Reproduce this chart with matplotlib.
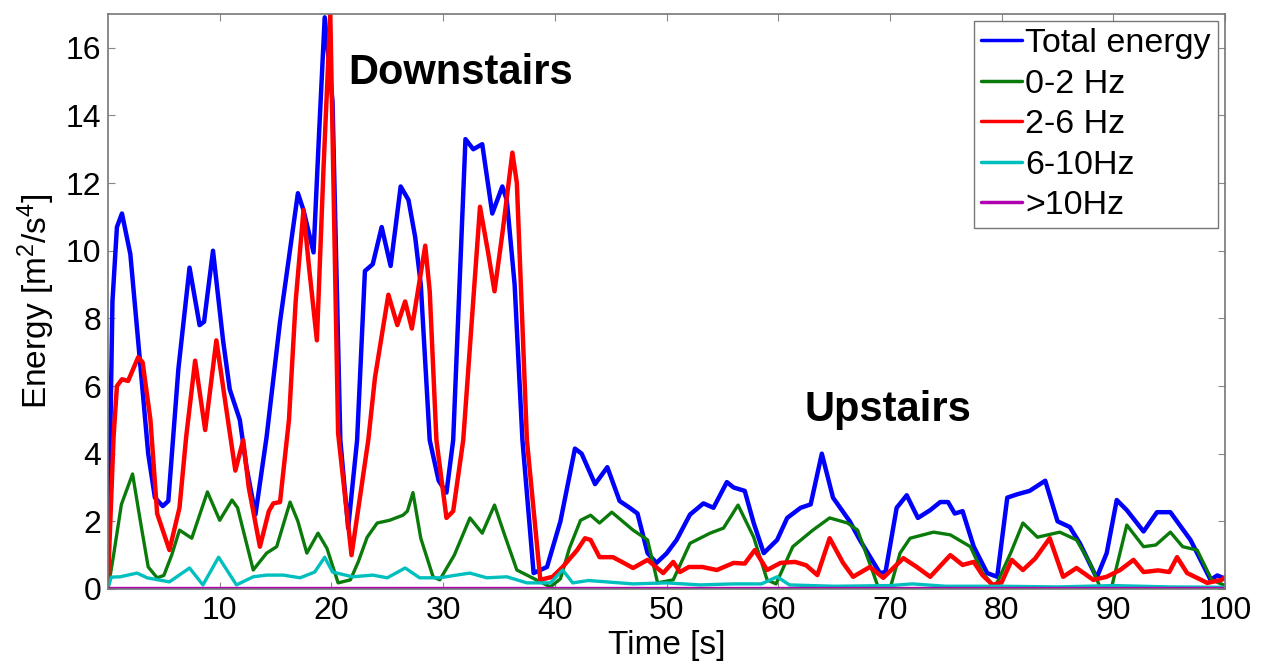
import numpy as np
import matplotlib
matplotlib.use("Agg")
import matplotlib.pyplot as plt

# Energi per pita frekuensi
t_total = [0, 0.4, 0.8, 1.25, 2.0, 2.9, 3.6, 4.2, 4.9, 5.4,
           6.3, 7.3, 8.2, 8.6, 9.4, 10.3, 10.9, 11.8, 12.4, 13.2,
           14.2, 15.4, 17.0, 17.5, 18.4, 18.9, 19.4, 20.1, 20.8, 21.5,
           22.3, 23.0, 23.7, 24.5, 25.3, 26.2, 26.9, 27.5, 28.0, 28.8,
           29.6, 30.3, 30.9, 32.0, 32.7, 33.5, 34.4, 35.3, 35.7, 36.4,
           37.1, 38.1, 39.3, 40.5, 41.8, 42.4, 43.6, 44.7, 45.8, 46.7,
           47.4, 48.3, 49.1, 50.0, 50.9, 52.1, 53.3, 54.2, 55.4, 56.0,
           57.0, 57.8, 58.7, 59.9, 60.8, 62.0, 62.9, 63.9, 64.9, 66.4,
           67.3, 69.1, 69.6, 70.6, 71.5, 72.5, 73.6, 74.5, 75.2, 75.8,
           76.5, 77.5, 78.7, 79.6, 80.5, 81.4, 82.5, 83.9, 85.0, 86.1,
           87.0, 88.5, 89.4, 90.3, 91.2, 92.7, 93.9, 95.1, 95.8, 96.9,
           98.7, 99.3, 100]
total = [0.3, 8.5, 10.7, 11.1, 9.9, 6.6, 4.0, 2.7, 2.45, 2.6,
         6.5, 9.5, 7.8, 7.9, 10.0, 7.35, 5.9, 5.0, 3.6, 2.2,
         4.5, 7.9, 11.7, 11.2, 9.95, 13.5, 16.9, 14.4, 4.4, 1.8,
         4.4, 9.4, 9.6, 10.7, 9.55, 11.9, 11.5, 10.4, 9.0, 4.4,
         3.2, 2.85, 4.4, 13.3, 13.0, 13.15, 11.1, 11.9, 11.5, 9.0,
         4.4, 0.47, 0.65, 2.0, 4.15, 4.0, 3.1, 3.6, 2.6, 2.4,
         2.23, 1.06, 0.77, 1.05, 1.45, 2.2, 2.53, 2.4, 3.16, 3.0,
         2.9, 1.95, 1.06, 1.45, 2.1, 2.4, 2.5, 4.0, 2.7, 2.0,
         1.45, 0.47, 0.5, 2.4, 2.77, 2.1, 2.33, 2.57, 2.57, 2.23,
         2.3, 1.25, 0.47, 0.36, 2.7, 2.8, 2.9, 3.2, 2.0, 1.83,
         1.35, 0.33, 1.06, 2.63, 2.33, 1.7, 2.27, 2.27, 1.95, 1.45,
         0.27, 0.4, 0.3]

t_low = [0, 0.5, 1.2, 2.2, 2.9, 3.6, 4.4, 5.0, 5.7, 6.4,
         7.5, 8.9, 10.0, 11.1, 11.6, 13.0, 14.2, 15.1, 16.3, 17.0,
         17.8, 18.8, 19.6, 20.6, 21.7, 22.4, 23.2, 24.1, 25.2, 26.4,
         26.8, 27.3, 28.0, 29.1, 29.7, 31.0, 32.4, 33.5, 34.6, 35.5,
         36.6, 37.8, 39.6, 40.5, 41.3, 42.3, 43.2, 44.0, 45.1, 47.0,
         48.3, 49.2, 50.6, 52.1, 53.9, 55.1, 56.4, 57.8, 59.0, 59.8,
         61.3, 63.1, 64.6, 66.2, 67.1, 68.5, 69.0, 70.0, 70.9, 71.8,
         73.9, 75.4, 77.2, 78.3, 79.4, 80.8, 81.9, 83.2, 85.2, 86.7,
         87.9, 88.8, 89.8, 91.2, 92.7, 93.8, 95.1, 96.2, 97.5, 98.8,
         100]
band_0_2 = [0.0, 1.0, 2.5, 3.4, 2.0, 0.65, 0.33, 0.4, 1.0, 1.74,
            1.5, 2.87, 2.03, 2.63, 2.4, 0.56, 1.06, 1.25, 2.57, 2.0,
            1.06, 1.65, 1.2, 0.18, 0.27, 0.8, 1.53, 1.95, 2.03, 2.18,
            2.3, 2.85, 1.5, 0.36, 0.27, 1.0, 2.1, 1.65, 2.48, 1.6,
            0.56, 0.36, 0.06, 0.3, 1.2, 2.03, 2.18, 1.95, 2.27, 1.74,
            1.45, 0.18, 0.27, 1.35, 1.65, 1.8, 2.48, 1.53, 0.27, 0.15,
            1.25, 1.74, 2.1, 1.95, 1.74, 0.47, 0.0, 0.0, 1.06, 1.5,
            1.68, 1.6, 1.25, 0.47, 0.05, 1.06, 1.95, 1.53, 1.68, 1.45,
            0.77, 0.06, 0.0, 1.89, 1.25, 1.3, 1.68, 1.25, 1.15, 0.27,
            0.1]

t_mid = [0, 0.5, 0.8, 1.25, 1.8, 2.7, 3.1, 3.8, 4.4, 5.5,
         6.4, 7.0, 7.8, 8.7, 9.7, 10.6, 11.4, 12.1, 12.6, 13.6,
         14.4, 14.8, 15.4, 16.2, 16.8, 17.5, 18.0, 18.7, 19.3, 19.9,
         20.6, 21.8, 23.3, 23.9, 25.1, 25.9, 26.6, 27.2, 28.4, 28.8,
         29.4, 30.3, 30.9, 31.8, 33.3, 34.0, 34.6, 35.3, 36.2, 36.6,
         37.5, 38.7, 39.8, 40.7, 42.0, 42.7, 43.2, 44.0, 45.2, 46.0,
         47.0, 48.3, 49.7, 50.6, 51.2, 52.0, 53.2, 54.5, 56.0, 57.0,
         57.9, 59.0, 60.2, 61.5, 62.5, 63.5, 64.6, 65.8, 66.7, 68.2,
         69.4, 71.2, 72.4, 73.6, 75.4, 76.5, 77.5, 78.3, 79.2, 80.0,
         80.9, 81.9, 83.0, 84.3, 85.5, 86.7, 88.2, 89.4, 90.6, 91.8,
         92.7, 94.0, 95.0, 95.7, 96.6, 98.4, 99.7, 100]
band_2_6 = [0.2, 4.5, 6.0, 6.2, 6.15, 6.85, 6.7, 5.0, 2.23, 1.15,
            2.4, 4.5, 6.75, 4.7, 7.35, 5.3, 3.5, 4.4, 3.0, 1.25,
            2.3, 2.53, 2.57, 5.0, 8.5, 11.2, 9.5, 7.35, 12.5, 17.0,
            4.6, 1.0, 4.4, 6.25, 8.7, 7.8, 8.5, 7.7, 10.15, 8.8,
            4.4, 2.1, 2.3, 4.4, 11.3, 10.0, 8.8, 10.5, 12.9, 12.0,
            4.4, 0.27, 0.36, 0.65, 1.15, 1.5, 1.45, 0.94, 0.94, 0.8,
            0.62, 0.86, 0.47, 0.8, 0.5, 0.65, 0.65, 0.56, 0.77, 0.75,
            1.15, 0.56, 0.77, 0.8, 0.7, 0.41, 1.5, 0.77, 0.36, 0.65,
            0.33, 0.91, 0.65, 0.36, 1.0, 0.71, 0.8, 0.4, 0.12, 0.2,
            0.86, 0.56, 0.9, 1.5, 0.36, 0.62, 0.27, 0.36, 0.56, 0.86,
            0.5, 0.55, 0.5, 0.94, 0.47, 0.18, 0.27, 0.35]

t_high = [0, 0.3, 1.1, 2.6, 3.5, 5.5, 7.3, 8.5, 9.9, 11.5,
          13.0, 14.2, 15.7, 17.2, 18.5, 19.4, 20.1, 21.9, 23.7, 25.0,
          26.6, 27.9, 29.7, 31.0, 32.4, 33.9, 35.7, 37.5, 39.6, 40.7,
          41.6, 43.0, 45.0, 47.0, 50.0, 53.0, 56.0, 58.5, 59.9, 61.0,
          65.0, 70.0, 72.0, 75.0, 80.0, 85.0, 90.0, 95.0, 100]
band_6_10 = [0.05, 0.35, 0.36, 0.47, 0.33, 0.21, 0.62, 0.12, 0.94, 0.12,
             0.36, 0.41, 0.41, 0.33, 0.5, 0.94, 0.5, 0.36, 0.41, 0.33,
             0.62, 0.33, 0.33, 0.4, 0.47, 0.33, 0.36, 0.18, 0.18, 0.56,
             0.18, 0.25, 0.2, 0.15, 0.18, 0.12, 0.15, 0.15, 0.36, 0.12,
             0.08, 0.1, 0.15, 0.08, 0.08, 0.06, 0.1, 0.06, 0.05]

t_top = [0, 25, 50, 75, 100]
band_10 = [0.02, 0.02, 0.02, 0.02, 0.02]

labels = ['Total energy', '0-2 Hz', '2-6 Hz', '6-10Hz', '>10Hz']
colors = ['#0000ff', '#0a7a0a', '#ff0000', '#00bfbf', '#b000b0']

plt.rcParams['font.family'] = ['Liberation Sans', 'DejaVu Sans']
plt.rcParams['mathtext.default'] = 'regular'

fig = plt.figure(figsize=(12.63, 6.64), dpi=100)
ax = fig.add_axes([0.0855, 0.113, 0.8845, 0.866])

kw = dict(solid_joinstyle='round', solid_capstyle='round')
ax.plot(t_total, total, color=colors[0], lw=3.2, label=labels[0], **kw)
ax.plot(t_low, band_0_2, color=colors[1], lw=2.4, label=labels[1], **kw)
ax.plot(t_mid, band_2_6, color=colors[2], lw=3.2, label=labels[2], **kw)
ax.plot(t_high, band_6_10, color=colors[3], lw=2.4, label=labels[3], **kw)
ax.plot(t_top, band_10, color=colors[4], lw=2.4, label=labels[4], **kw)

ax.set_xlim(0, 100)
ax.set_ylim(0, 17)
ax.set_xticks(np.arange(10, 101, 10))
ax.set_yticks(np.arange(0, 17, 2))
ax.tick_params(direction='in', top=True, right=True, length=5,
               color='#888888', labelsize=23, pad=5)
for sp in ax.spines.values():
    sp.set_color('#777777')
    sp.set_linewidth(1.2)

ax.set_xlabel('Time [s]', fontsize=24, labelpad=3)
ax.set_ylabel('Energy [m$^2$/s$^4$]', fontsize=24, labelpad=6)

ax.text(31.6, 15.25, 'Downstairs', fontsize=30, fontweight='bold',
        ha='center', va='center')
ax.text(69.8, 5.28, 'Upstairs', fontsize=30, fontweight='bold',
        ha='center', va='center')

leg = ax.legend(loc='upper right', fontsize=24.5, handlelength=1.2,
                handletextpad=0.1, labelspacing=0.28, borderpad=0.2,
                borderaxespad=0.22, fancybox=False, framealpha=1)
leg.get_frame().set_edgecolor('#777777')
for ln in leg.get_lines():
    ln.set_linewidth(2.5)

fig.savefig('out.png', dpi=100)
